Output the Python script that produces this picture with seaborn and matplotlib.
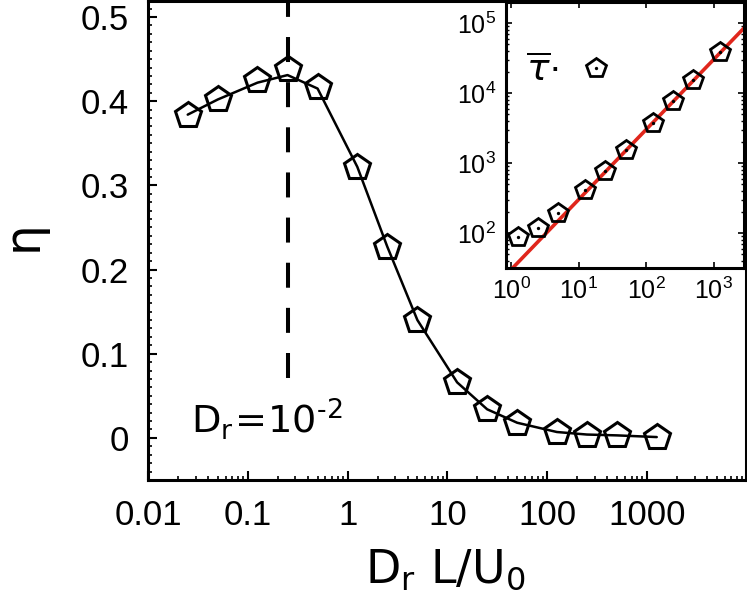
import numpy as np
import pandas as pd
import matplotlib
matplotlib.use("Agg")
import matplotlib.pyplot as plt
import seaborn as sns
from matplotlib.ticker import LogLocator, MultipleLocator, NullFormatter
from matplotlib.lines import Line2D

# main panel: efficiency vs Dr L/U0
dr_scaled = [0.025, 0.05, 0.125, 0.25, 0.5, 1.25, 2.5, 5, 12.5, 25, 50, 125, 250, 500, 1250]
eta = [0.384, 0.402, 0.425, 0.438, 0.417, 0.322, 0.227, 0.140, 0.066, 0.034, 0.018,
       0.007, 0.004, 0.003, 0.001]
eta_curve = [0.384, 0.402, 0.422, 0.431, 0.415, 0.322, 0.227, 0.140, 0.066, 0.034, 0.018,
             0.007, 0.004, 0.003, 0.001]
dr_ref = 0.25
main_xticks = [0.01, 0.1, 1, 10, 100, 1000]
main_xticklabels = ["0.01", "0.1", "1", "10", "100", "1000"]
main_yticks = [0, 0.1, 0.2, 0.3, 0.4, 0.5]
main_yticklabels = ["0", "0.1", "0.2", "0.3", "0.4", "0.5"]

# inset: mean time tau
tau_x = [1.25, 2.5, 5, 12.5, 25, 50, 125, 250, 500, 1250]
tau = [87, 117, 195, 410, 770, 1540, 3770, 7800, 15400, 38000]
fit_x = [0.8, 3000]
fit_tau = [24, 90000]
in_xticks = [1, 10, 100, 1000]
in_xticklabels = [r"$\mathregular{10^{0}}$", r"$\mathregular{10^{1}}$",
                  r"$\mathregular{10^{2}}$", r"$\mathregular{10^{3}}$"]
in_yticks = [100, 1000, 10000, 100000]
in_yticklabels = [r"$\mathregular{10^{2}}$", r"$\mathregular{10^{3}}$",
                  r"$\mathregular{10^{4}}$", r"$\mathregular{10^{5}}$"]

sns.set_style("ticks")
plt.rcParams["font.family"] = ["Liberation Sans", "DejaVu Sans"]
plt.rcParams["lines.scale_dashes"] = False
plt.rcParams["axes.linewidth"] = 2.2
for key in ["text.color", "axes.labelcolor", "xtick.color", "ytick.color", "axes.edgecolor"]:
    plt.rcParams[key] = "black"

df = pd.DataFrame({"x": dr_scaled, "eta": eta, "curve": eta_curve})
dfi = pd.DataFrame({"x": tau_x, "tau": tau})
dff = pd.DataFrame({"x": fit_x, "tau": fit_tau})

fig = plt.figure(figsize=(7.47, 5.96), dpi=100)
ax = fig.add_axes([148 / 747, 1 - 480 / 596, (746 - 148) / 747, 479 / 596])

ax.set_xscale("log")
sns.lineplot(data=df, x="x", y="curve", ax=ax, color="k", linewidth=1.8,
             sort=False, errorbar=None)
sns.lineplot(data=df, x="x", y="eta", ax=ax, linestyle="", marker="p",
             markersize=19, markerfacecolor="none", markeredgecolor="k",
             markeredgewidth=2.2, sort=False, errorbar=None)
ax.axvline(dr_ref, ymin=0.213, ymax=1, color="k", linewidth=2.9, dashes=(18, 14.5))

ax.set_xlim(0.01, 9800)
ax.set_ylim(-0.05, 0.519)
ax.set_xticks(main_xticks)
ax.set_xticklabels(main_xticklabels)
ax.xaxis.set_minor_locator(LogLocator(base=10, subs=np.arange(2, 10)))
ax.xaxis.set_minor_formatter(NullFormatter())
ax.set_yticks(main_yticks)
ax.set_yticklabels(main_yticklabels)
ax.yaxis.set_minor_locator(MultipleLocator(0.01))
ax.tick_params(which="major", direction="in", length=6.5, width=1.5, labelsize=25, pad=14)
ax.tick_params(which="minor", direction="in", length=3.2, width=1.2)
ax.set_xlabel("")
ax.set_ylabel("")

ax.text(0.027, 0.005, "$\\mathregular{D_r\\!=\\!10^{\u20102}}$", fontsize=27.5,
        fontfamily="DejaVu Sans", ha="left", va="baseline")

fig.text(445 / 747, 1 - 583 / 596, r"$\mathregular{D_r\ L/U_0}$", fontsize=33,
         fontfamily="DejaVu Sans", ha="center", va="baseline")
fig.text(23 / 747, 1 - 236 / 596, "η", fontsize=35, fontfamily="DejaVu Sans",
         rotation=90, ha="center", va="center")

# inset
axi = fig.add_axes([506 / 747, 1 - 268 / 596, (744 - 506) / 747, 266 / 596])
axi.set_xscale("log")
axi.set_yscale("log")
sns.lineplot(data=dff, x="x", y="tau", ax=axi, color="#e0261c", linewidth=2.6,
             sort=False, errorbar=None)
sns.lineplot(data=dfi, x="x", y="tau", ax=axi, linestyle="", marker="p",
             markersize=15, markerfacecolor="none", markeredgecolor="k",
             markeredgewidth=2.0, sort=False, errorbar=None)
sns.lineplot(data=dfi, x="x", y="tau", ax=axi, linestyle="", marker="o",
             markersize=2.4, markerfacecolor="k", markeredgecolor="k",
             markeredgewidth=0, sort=False, errorbar=None)
axi.set_xlim(0.84, 2830)
axi.set_ylim(31.6, 2.0e5)
axi.set_xticks(in_xticks)
axi.set_xticklabels(in_xticklabels)
axi.set_yticks(in_yticks)
axi.set_yticklabels(in_yticklabels)
axi.xaxis.set_minor_locator(LogLocator(base=10, subs=np.arange(2, 10)))
axi.yaxis.set_minor_locator(LogLocator(base=10, subs=np.arange(2, 10)))
axi.xaxis.set_minor_formatter(NullFormatter())
axi.yaxis.set_minor_formatter(NullFormatter())
axi.tick_params(which="major", direction="in", length=4.5, width=1.2, labelsize=18,
                top=True, right=True, pad=7)
axi.tick_params(which="minor", direction="in", length=2.3, width=1.0, top=True, right=True)
axi.set_xlabel("")
axi.set_ylabel("")

pent = Line2D([], [], linestyle="", marker="p", markersize=15, markerfacecolor="none",
              markeredgecolor="k", markeredgewidth=2.0)
dot = Line2D([], [], linestyle="", marker="o", markersize=2.4, markerfacecolor="k",
             markeredgewidth=0)
axi.legend(handles=[(pent, dot)], labels=[r"$\overline{\tau}$·"], loc="center left",
           bbox_to_anchor=(0.02, 0.74), markerfirst=False, frameon=False,
           fontsize=27, handlelength=1.0, handletextpad=0.5, borderaxespad=0)

fig.savefig("out.png", dpi=100)
